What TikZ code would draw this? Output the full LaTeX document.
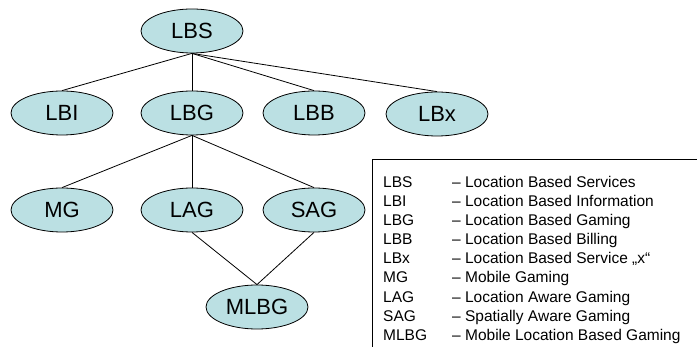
\documentclass[tikz,border=0pt]{standalone}
\usepackage{fontspec}
\setmainfont{Liberation Sans}
\usetikzlibrary{shapes.geometric}
\definecolor{ellfill}{RGB}{187,224,227}
\tikzset{
  ell/.style={ellipse, draw=black, line width=0.8pt, fill=ellfill, inner sep=0pt,
    minimum width=102pt, minimum height=44pt, font=\fontsize{22}{24}\selectfont},
  conn/.style={draw=black, line width=0.8pt},
  abbr/.style={anchor=base west, inner sep=0pt, font=\fontsize{15.5}{17}\selectfont},
  legbox/.style={draw=black, line width=1pt}
}
\begin{document}
\begin{tikzpicture}[x=1pt,y=-1pt]
\useasboundingbox (0,0) rectangle (697,347);
\clip (0,0) rectangle (697,347);
% nodes
\node[ell] (LBS) at (192,31) {LBS};
\node[ell] (LBI) at (62,113) {LBI};
\node[ell] (LBG) at (192,113) {LBG};
\node[ell] (LBB) at (314,113) {LBB};
\node[ell] (LBx) at (437,114) {LBx};
\node[ell] (MG) at (62,210) {MG};
\node[ell] (LAG) at (192,210) {LAG};
\node[ell] (SAG) at (314,210) {SAG};
\node[ell] (MLBG) at (257,307) {MLBG};
% connectors
\draw[conn] (LBS.south) -- (LBI.north);
\draw[conn] (LBS.south) -- (LBG.north);
\draw[conn] (LBS.south) -- (LBB.north);
\draw[conn] (LBS.south) -- (LBx.north);
\draw[conn] (LBG.south) -- (MG.north);
\draw[conn] (LBG.south) -- (LAG.north);
\draw[conn] (LBG.south) -- (SAG.north);
\draw[conn] (LAG.south) -- (MLBG.north);
\draw[conn] (SAG.south) -- (MLBG.north);
% legend
\draw[legbox] (372,160) rectangle (720,370);
\foreach \a/\d [count=\i from 0] in {LBS/Location Based Services,LBI/Location Based Information,LBG/Location Based Gaming,LBB/Location Based Billing,LBx/Location Based Service „x“,MG/Mobile Gaming,LAG/Location Aware Gaming,SAG/Spatially Aware Gaming,MLBG/Mobile Location Based Gaming}{
  \node[abbr] (a\i) at (383,{187.5+19.1*\i}) {\a};
  \node[abbr] (d\i) at (452,{187.5+19.1*\i}) {– \d};
}
\end{tikzpicture}
\end{document}
